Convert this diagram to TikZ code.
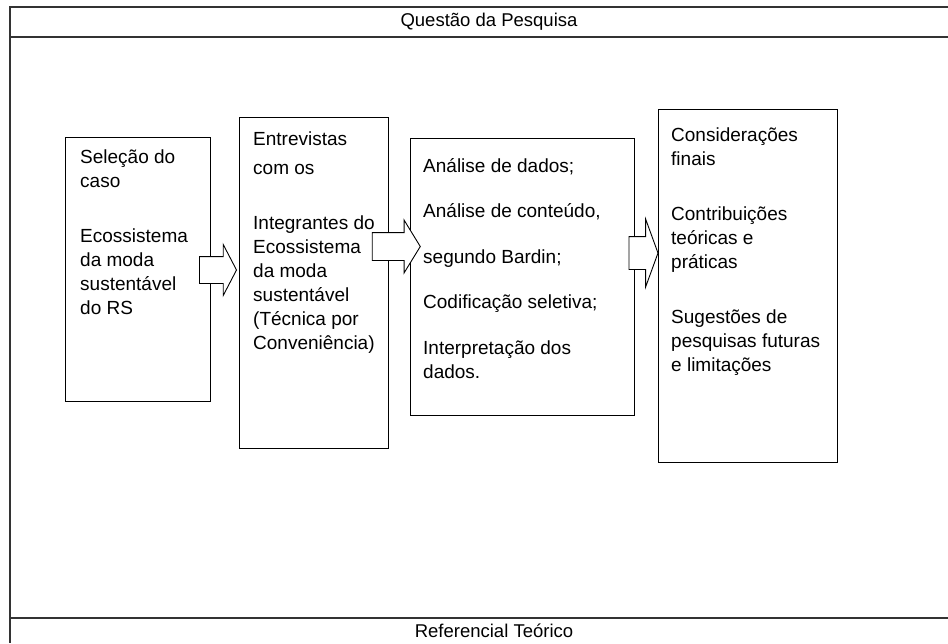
\documentclass[tikz,border=0pt]{standalone}
\usepackage{fontspec}
\setmainfont{Liberation Sans}
\usetikzlibrary{positioning, shapes.arrows}

\tikzset{
  etapa/.style = {draw, line width = 1.1pt, rectangle, anchor = north west, inner sep = 0pt},
  etapatexto/.style = {anchor = north west, align = left, inner sep = 0pt, font = \fontsize{19}{24}\selectfont},
  faixa/.style = {font = \fontsize{18.5}{22}\selectfont, inner sep = 0pt},
  seta/.style = {single arrow, draw, fill = white, line width = 0.9pt, inner xsep = 0pt, single arrow head indent = 0pt},
}

\begin{document}
\begin{tikzpicture}[x = 1pt, y = -1pt]
    \useasboundingbox (0, 0) rectangle (948, 643);
    % moldura
    \draw[line width = 1.6pt, color = black!80] (948, 7) -- (10, 7) -- (10, 643);
    \draw[line width = 1.6pt, color = black!80] (10, 37) -- (948, 37);
    \draw[line width = 1.6pt, color = black!80] (10, 618) -- (948, 618);
    \node[faixa] (questao) at (489, 22) {Questão da Pesquisa};
    \node[faixa] (referencial) at (494, 631) {Referencial Teórico};

    % etapas
    \node[etapa, minimum width = 145pt, minimum height = 264pt] (selecao) at (65, 137) {};
    \node[etapa, minimum width = 149pt, minimum height = 331pt] (entrevistas) at (239, 117) {};
    \node[etapa, minimum width = 224pt, minimum height = 277pt] (analise) at (410, 138) {};
    \node[etapa, minimum width = 179pt, minimum height = 353pt] (consideracoes) at (658, 109) {};

    \node[etapatexto, below right = 13pt and 15pt of selecao.north west] (selecaotxt)
        {Seleção do\\caso\\[31pt]Ecossistema\\da moda\\sustentável\\do RS};
    \node[etapatexto, below right = 15pt and 14pt of entrevistas.north west] (entrevistastxt)
        {Entrevistas\\[5pt]com os\\[31pt]Integrantes do\\Ecossistema\\da moda\\sustentável\\(Técnica por\\Conveniência)};
    \node[etapatexto, below right = 20pt and 13pt of analise.north west] (analisetxt)
        {Análise de dados;\\[21.5pt]Análise de conteúdo,\\[21.5pt]segundo Bardin;\\[21.5pt]Codificação seletiva;\\[21.5pt]Interpretação dos\\dados.};
    \node[etapatexto, below right = 19pt and 13pt of consideracoes.north west] (consideracoestxt)
        {Considerações\\finais\\[31pt]Contribuições\\teóricas e\\práticas\\[31pt]Sugestões de\\pesquisas futuras\\e limitações};

    % setas
    \node[seta, minimum height = 37pt, inner ysep = 13pt, single arrow head extend = 12pt, single arrow tip angle = 125] (seta1) at (214.5, 270) {};
    \node[seta, minimum height = 48pt, inner ysep = 13.5pt, single arrow head extend = 12.5pt, single arrow tip angle = 117] (seta2) at (392, 246.5) {};
    \node[seta, minimum height = 29pt, inner ysep = 16pt, single arrow head extend = 17.5pt, single arrow tip angle = 140] (seta3) at (640.5, 253) {};
\end{tikzpicture}
\end{document}
